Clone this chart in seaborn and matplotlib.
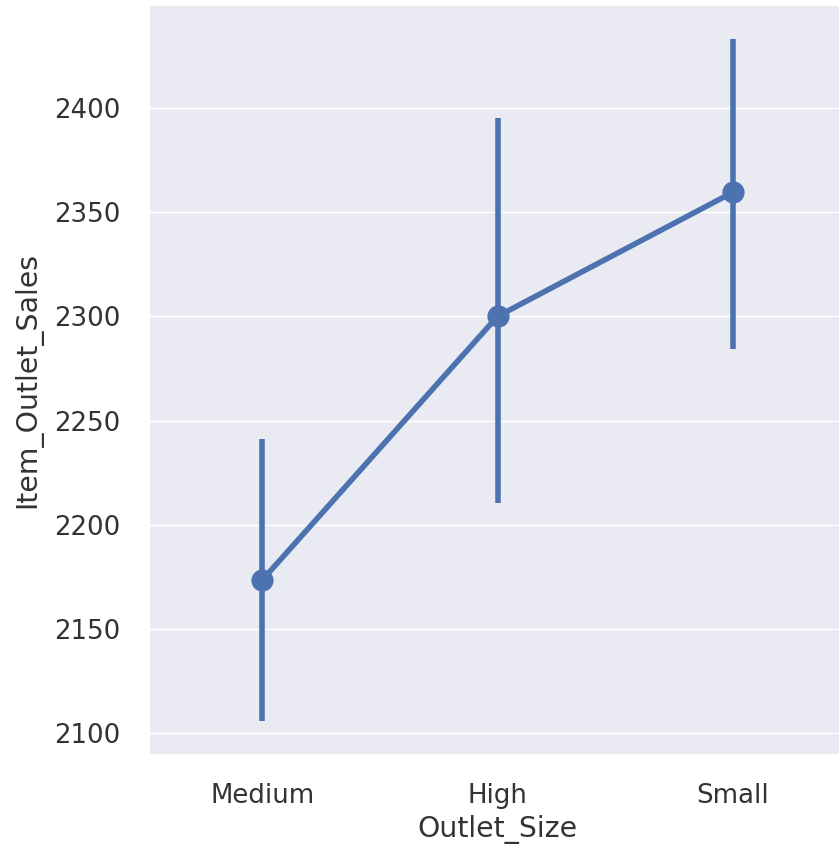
import numpy as np
import pandas as pd
import matplotlib
matplotlib.use("Agg")
import matplotlib.pyplot as plt
import seaborn as sns

# Values
outlet_size = ["Medium", "High", "Small"]
mean_sales = [2173.5, 2300.0, 2359.5]
ci_low = [2106.0, 2210.5, 2284.5]
ci_high = [2241.0, 2395.0, 2433.0]

df = pd.DataFrame({"Outlet_Size": outlet_size, "Item_Outlet_Sales": mean_sales})

sns.set_theme(style="darkgrid", font_scale=1.7)

fig = plt.figure(figsize=(8.39, 8.49), dpi=100)
ax = fig.add_axes([0.178, 0.111, 0.83, 0.883])

color = sns.color_palette()[0]
ax.vlines(range(len(outlet_size)), ci_low, ci_high, color=color, linewidth=4.0, zorder=2)
sns.pointplot(data=df, x="Outlet_Size", y="Item_Outlet_Sales", errorbar=None,
              color=color, markersize=13, linewidth=4.0, ax=ax)

ax.set_xlim(-0.48, 2.48)
ax.set_yticks([2100, 2150, 2200, 2250, 2300, 2350, 2400])
lo, hi = min(ci_low), max(ci_high)
pad = 0.05 * (hi - lo)
ax.set_ylim(lo - pad, hi + pad)

# wider gap between labels and the plot area, as in the reference
ax.tick_params(axis="y", pad=plt.rcParams["ytick.major.pad"] + 11.5, colors="#333333")
ax.tick_params(axis="x", pad=plt.rcParams["xtick.major.pad"] + 11, colors="#333333")
ax.set_ylabel("Item_Outlet_Sales", labelpad=8.5, color="#333333")
ax.set_xlabel("Outlet_Size", color="#333333")

fig.savefig("out.png", dpi=100)
